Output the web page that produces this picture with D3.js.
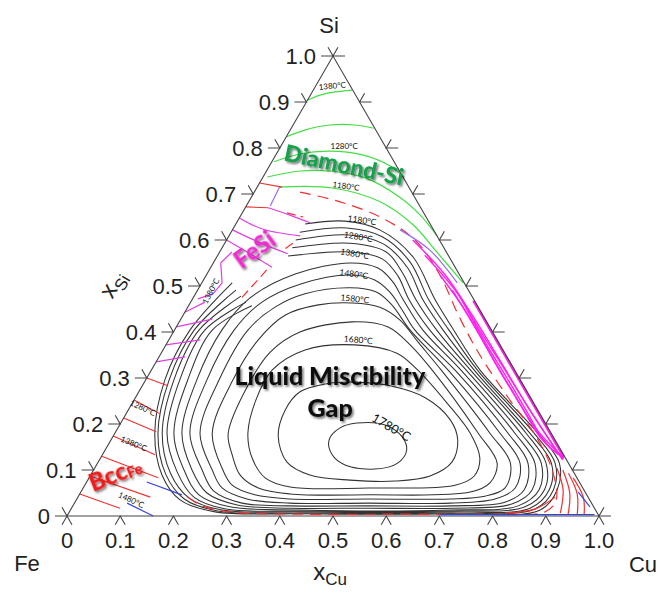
<!DOCTYPE html>
<html><head><meta charset="utf-8">
<script src="https://cdn.jsdelivr.net/npm/d3@7"></script>
<style>
body{margin:0;background:#fff}
svg{display:block}
</style></head><body>
<svg id="c" width="660" height="594"></svg>
<script>
// ---------- DATA (compositions as [xCu, xSi]) ----------
const tickValues = [0,0.1,0.2,0.3,0.4,0.5,0.6,0.7,0.8,0.9,1.0];
const tickLabels = ["0","0.1","0.2","0.3","0.4","0.5","0.6","0.7","0.8","0.9","1.0"];

// Liquid miscibility gap isotherms (black)
const iso1180 = [[.130,.635],[.202,.641],[.277,.622],[.369,.563],[.457,.470],[.525,.404],[.618,.317],[.795,.180],[.868,.115],[.893,.057],[.883,.013],[.717,.005],[.435,.005],[.274,.009],[.195,.035],[.134,.089],[.075,.180],[.036,.296],[.029,.404],[.057,.507]];
const iso1230 = [[.129,.617],[.213,.626],[.289,.607],[.369,.552],[.445,.470],[.516,.404],[.613,.317],[.788,.180],[.860,.115],[.886,.057],[.872,.015],[.717,.0065],[.435,.0065],[.278,.011],[.202,.037],[.140,.091],[.081,.180],[.044,.296],[.037,.404],[.072,.491]];
const iso1280 = [[.130,.600],[.225,.611],[.300,.591],[.371,.539],[.434,.470],[.505,.404],[.607,.317],[.780,.180],[.853,.115],[.878,.057],[.862,.017],[.716,.009],[.434,.009],[.285,.013],[.210,.039],[.148,.093],[.089,.180],[.053,.296],[.046,.404],[.088,.478]];
const iso1330 = [[.132,.583],[.235,.593],[.313,.574],[.365,.530],[.421,.470],[.493,.404],[.600,.317],[.773,.180],[.843,.115],[.869,.057],[.851,.020],[.714,.011],[.432,.011],[.291,.015],[.218,.041],[.159,.096],[.098,.180],[.064,.296],[.057,.404],[.104,.465]];
const iso1380 = [[.133,.565],[.245,.574],[.313,.559],[.361,.522],[.408,.470],[.480,.404],[.592,.317],[.763,.180],[.834,.115],[.859,.057],[.837,.022],[.713,.013],[.431,.013],[.296,.020],[.225,.046],[.170,.100],[.111,.180],[.079,.296],[.071,.404],[.119,.457]];
const iso1430 = [[.126,.180],[.096,.296],[.089,.404],[.107,.474],[.166,.526],[.257,.550],[.315,.539],[.358,.509],[.397,.470],[.467,.404],[.582,.317],[.752,.180],[.822,.115],[.846,.057],[.823,.026],[.712,.017],[.558,.017],[.411,.017],[.308,.024],[.238,.050],[.185,.100]];
const iso1480 = [[.141,.180],[.115,.296],[.112,.404],[.134,.465],[.186,.504],[.270,.524],[.322,.513],[.363,.487],[.406,.448],[.452,.404],[.571,.317],[.739,.180],[.809,.115],[.831,.057],[.808,.030],[.709,.022],[.555,.022],[.408,.022],[.315,.028],[.249,.054],[.204,.100]];
const iso1530 = [[.160,.180],[.138,.296],[.138,.404],[.164,.454],[.206,.483],[.284,.496],[.338,.487],[.381,.459],[.443,.404],[.558,.317],[.724,.180],[.794,.115],[.812,.061],[.786,.037],[.706,.028],[.552,.028],[.405,.028],[.320,.037],[.261,.061],[.223,.100]];
const iso1580 = [[.183,.180],[.164,.296],[.168,.383],[.192,.437],[.243,.459],[.305,.463],[.361,.454],[.413,.426],[.471,.378],[.545,.317],[.705,.180],[.776,.115],[.793,.061],[.764,.043],[.701,.037],[.547,.037],[.400,.037],[.330,.046],[.277,.067],[.243,.100]];
const iso1630 = [[.213,.180],[.198,.285],[.204,.357],[.238,.400],[.325,.422],[.398,.411],[.459,.372],[.528,.317],[.683,.180],[.751,.115],[.759,.072],[.732,.052],[.543,.046],[.395,.048],[.329,.061],[.281,.089],[.244,.133]];
const iso1680 = [[.250,.180],[.229,.252],[.227,.317],[.267,.361],[.355,.372],[.443,.354],[.501,.317],[.591,.246],[.668,.180],[.713,.126],[.722,.087],[.696,.067],[.536,.061],[.388,.063],[.331,.083],[.285,.126]];
const iso1730 = [[.310,.174],[.295,.230],[.303,.270],[.342,.287],[.395,.291],[.466,.283],[.545,.257],[.616,.209],[.652,.165],[.665,.117],[.639,.087],[.579,.076],[.493,.078],[.412,.089],[.355,.117]];
const iso1780 = [[.410,.165],[.417,.191],[.444,.202],[.499,.198],[.544,.172],[.567,.143],[.564,.115],[.528,.102],[.467,.111],[.432,.133]];

// Diamond-Si liquidus isotherms (green)
const green1 = [[0,.904],[.018,.915],[.043,.922],[.073,.926]];
const green2 = [[0,.824],[.027,.839],[.069,.850],[.116,.850],[.155,.843]];
const green3 = [[.004,.770],[.044,.787],[.097,.793],[.163,.785],[.227,.761],[.265,.737]];
const green4 = [[.008,.737],[.063,.750],[.119,.750],[.193,.735],[.279,.693],[.337,.654],[.391,.609]];
const green5 = [[.042,.715],[.143,.713],[.247,.683],[.334,.633],[.408,.574],[.491,.507]];

// Cu-side silicide boundaries (magenta / violet)
const violet1 = [[.315,.622],[.393,.578],[.480,.507]];
const magA = [[.350,.600],[.449,.524],[.543,.437],[.644,.339],[.755,.230],[.871,.122]];
const magB = [[.389,.567],[.484,.491],[.574,.404],[.665,.317],[.766,.220],[.871,.122]];
const magC = [[.439,.524],[.524,.448],[.611,.361],[.699,.274],[.790,.187],[.871,.126]];
const magD = [[.479,.491],[.574,.398],[.649,.322],[.732,.241],[.811,.165],[.871,.126]];
const magE = [[.507,.470],[.603,.372],[.677,.300],[.752,.226],[.822,.157],[.871,.126]];
const magEdge = [[.530,.468],[.870,.128]];

// FeSi region lines (magenta)
const fesi0 = [[.043,.670],[.092,.654],[.139,.637]];
const fesi1 = [[0,.648],[.055,.624],[.134,.609]];
const fesi2 = [[0,.622],[.061,.596],[.130,.570]];
const fesi3 = [[0,.600],[.059,.570],[.115,.541]];
const fesi4 = [[.023,.574],[.014,.550],[.038,.507],[.033,.483],[.010,.472]];
const fesiTie = [[[0,.443],[.027,.465]],[[0,.411],[.059,.428]],[[0,.372],[.059,.383]],[[0,.335],[.049,.346]]];
const violetFeSi = [[.042,.715],[.045,.674]];

// Bcc(Fe) liquidus tie lines (red)
const bccTie = [[[0,.300],[.048,.283]],[[0,.252],[.064,.222]],[[0,.213],[.076,.183]],[[0,.174],[.099,.133]],[[0,.130],[.130,.083]],[[0,.087],[.136,.041]],[[0,.048],[.091,.017]]];
const redSolidTop = [[[0,.724],[.047,.715]],[[0,.672],[.043,.670]]];

// metastable boundary (red dashed)
const redDashed = [[.086,.704],[.172,.683],[.268,.648],[.354,.600],[.439,.524],[.517,.437],[.601,.350],[.701,.257],[.792,.176],[.862,.100],[.902,.035],[.894,.009],[.812,.004],[.624,.004],[.436,.004],[.302,.009],[.238,.024],[.199,.046]];
const redDashShort = [[[.108,.535],[.090,.470]],[[.128,.593],[.117,.578]],[[.084,.659],[.119,.650]]];

// Cu-rich (fcc) liquidus (red)
const cuRed1 = [[.869,.104],[.904,.057],[.924,.0065]];
const cuRed2 = [[.882,.100],[.920,.050],[.940,.004]];
const cuRed3 = [[.896,.093],[.935,.048],[.958,.002]];
const cuRed4 = [[.910,.083],[.950,.041],[.971,.002]];
const cuRed5 = [[.897,.041],[.872,.015],[.820,.0065]];

// blue lines
const blue1 = [[.113,.074],[.193,.046]];
const blue2 = [[.099,.028],[.162,0]];
const blue3 = [[.700,.003],[.990,.003]];
const blue4 = [[.935,.052],[.973,.020]];

// isotherm labels: [text, xCu, xSi, angle, size]
const isoLabels = [
  ["1180°C",.233,.643,8,8.5],["1280°C",.244,.607,10,8.5],["1380°C",.256,.570,10,8.5],
  ["1480°C",.276,.526,8,8.5],["1580°C",.305,.472,6,8.5],["1680°C",.356,.383,5,8.5],
  ["1780°C",.513,.193,30,12.5],
  ["1380°C",.031,.935,-5,8],["1280°C",.119,.804,0,8],["1180°C",.166,.717,8,8],
  ["1380°C",.026,.489,-62,8],["1280°C",.025,.235,25,8],["1380°C",.047,.157,22,8],["1480°C",.103,.035,25,8]
];

// ---------- DRAWING ----------
const svg = d3.select("#c");
const sx = d3.scaleLinear().domain([0,1]).range([67,599]);
const sy = d3.scaleLinear().domain([0,1]).range([516,56]);
const P = d => [sx(d[0] + d[1]/2), sy(d[1])];

const defs = svg.append("defs");
const f1 = defs.append("filter").attr("id","sh").attr("x","-20%").attr("y","-20%").attr("width","140%").attr("height","140%");
f1.append("feDropShadow").attr("dx",1.6).attr("dy",1.8).attr("stdDeviation",1.0).attr("flood-color","#000").attr("flood-opacity",0.55);

const lineOpen = d3.line().curve(d3.curveCatmullRom.alpha(0.5));
const lineClosed = d3.line().curve(d3.curveCatmullRomClosed.alpha(0.5));
const lineStraight = d3.line();

const gLines = svg.append("g").attr("fill","none");

function draw(pts, color, w, opts={}) {
  const gen = opts.closed ? lineClosed : (opts.straight ? lineStraight : lineOpen);
  const p = gLines.append("path").attr("d", gen(pts.map(P)))
    .attr("stroke", color).attr("stroke-width", w).attr("stroke-linejoin","round");
  if (opts.dash) p.attr("stroke-dasharray", opts.dash);
  return p;
}

const blackIso = [
  [iso1180,false],[iso1230,false],[iso1280,false],[iso1330,false],[iso1380,false],
  [iso1430,true],[iso1480,true],[iso1530,true],[iso1580,true],[iso1630,true],
  [iso1680,true],[iso1730,true],[iso1780,true]
];
blackIso.forEach(([pts,closed]) => draw(pts, "#333", 1.05, {closed}));

// red dashed metastable curve
draw(redDashed, "#f03030", 1.2, {dash:"11,7"});
redDashShort.forEach(s => draw(s, "#f03030", 1.2, {straight:true, dash:"9,5"}));

// green
[green1,green2,green3,green4,green5].forEach(g => draw(g, "#44dd44", 1.2));

// magenta near Cu-Si edge
draw(violet1, "#9a6cf0", 1.2);
[magA,magB,magC,magD,magE].forEach(m => draw(m, "#ff22ee", 1.4));
draw(magEdge, "#ff22ee", 2.6, {straight:true});

// FeSi
[fesi0,fesi1,fesi2,fesi3].forEach(m => draw(m, "#e040e0", 1.2));
draw(fesi4, "#e040e0", 1.2, {straight:true});
fesiTie.forEach(s => draw(s, "#e040e0", 1.2, {straight:true}));
draw(violetFeSi, "#9a6cf0", 1.2, {straight:true});

// red solid
bccTie.forEach(s => draw(s, "#f03030", 1.1, {straight:true}));
redSolidTop.forEach(s => draw(s, "#f03030", 1.1, {straight:true}));
[cuRed1,cuRed2,cuRed3,cuRed4,cuRed5].forEach(r => draw(r, "#f03030", 1.2));

// blue
[blue1,blue2,blue3,blue4].forEach(b => draw(b, "#3344dd", 1.2, {straight:true}));

// ---------- TRIANGLE + TICKS ----------
const gAx = svg.append("g").attr("stroke","#444").attr("stroke-width",1.1).attr("fill","none");
const corners = [[0,0],[1,0],[0,1]].map(P);
gAx.append("path").attr("d", d3.line()(corners) + "Z");

const HL = 12, DL = 10, c60 = 0.5, s60 = 0.866;
tickValues.forEach(v => {
  const b = P([v,0]);
  gAx.append("path").attr("d", `M${b[0]-DL*c60},${b[1]+DL*s60}L${b[0]},${b[1]}L${b[0]+DL*c60},${b[1]+DL*s60}`);
  const l = P([0,v]);
  gAx.append("path").attr("d", `M${l[0]-HL},${l[1]}L${l[0]},${l[1]}L${l[0]-DL*c60},${l[1]-DL*s60}`);
  const r = P([1-v,v]);
  gAx.append("path").attr("d", `M${r[0]+HL},${r[1]}L${r[0]},${r[1]}L${r[0]+DL*c60},${r[1]-DL*s60}`);
});

const gT = svg.append("g").attr("font-family","'Liberation Sans', Arial, sans-serif").attr("fill","#222");
tickValues.forEach((v,i) => {
  const b = P([v,0]);
  gT.append("text").attr("x", b[0]).attr("y", 548).attr("text-anchor","middle").attr("font-size",22).text(tickLabels[i]);
  const l = P([0,v]);
  gT.append("text").attr("x", l[0]-17).attr("y", l[1]+8).attr("text-anchor","end").attr("font-size",22).text(tickLabels[i]);
});

// corner labels
gT.append("text").attr("x",329).attr("y",33).attr("text-anchor","middle").attr("font-size",22).text("Si");
gT.append("text").attr("x",27).attr("y",571).attr("text-anchor","middle").attr("font-size",22).text("Fe");
gT.append("text").attr("x",643).attr("y",572).attr("text-anchor","middle").attr("font-size",22).text("Cu");

// axis titles
const xCu = gT.append("text").attr("x",330).attr("y",580).attr("text-anchor","middle").attr("font-size",24);
xCu.append("tspan").text("x");
xCu.append("tspan").attr("font-size",17).attr("dy",5).text("Cu");
const xSi = gT.append("text").attr("transform","translate(119,288) rotate(-60)").attr("text-anchor","middle").attr("font-size",24);
xSi.append("tspan").text("x");
xSi.append("tspan").attr("font-size",17).attr("dy",6).text("Si");

// isotherm labels
const gL = svg.append("g").attr("font-family","Lato, 'Open Sans', sans-serif").attr("fill","#111");
isoLabels.forEach(([t,cu,si,a,fs]) => {
  const p = P([cu,si]);
  gL.append("text").attr("transform",`translate(${p[0]},${p[1]}) rotate(${a})`)
    .attr("text-anchor","middle").attr("dy","0.35em").attr("font-size",fs).text(t);
});

// phase labels
const gP = svg.append("g").attr("font-family","Lato, 'Open Sans', sans-serif").attr("font-weight",900).attr("filter","url(#sh)");
function phase(txt, cu, si, ang, size, color) {
  const p = P([cu,si]);
  return gP.append("text").attr("transform",`translate(${p[0]},${p[1]}) rotate(${ang})`)
    .attr("text-anchor","middle").attr("dy","0.35em").attr("font-size",size).attr("fill",color).text(txt);
}
phase("Diamond-Si", .139, .763, 12, 23, "#12a24c");
phase("FeSi", .064, .578, -36, 24, "#ee2fd0");
phase("Liquid Miscibility", .342, .304, 0, 25, "#111");
phase("Gap", .377, .235, 0, 25, "#111");
const bp = P([.023,.052]);
const bcc = gP.append("text").attr("transform",`translate(${bp[0]},${bp[1]}) rotate(-22)`)
  .attr("font-size",24).attr("fill","#ee1c1c");
bcc.append("tspan").text("Bcc");
bcc.append("tspan").attr("font-size",15).attr("dy",1).text("Fe");
</script>
</body></html>
